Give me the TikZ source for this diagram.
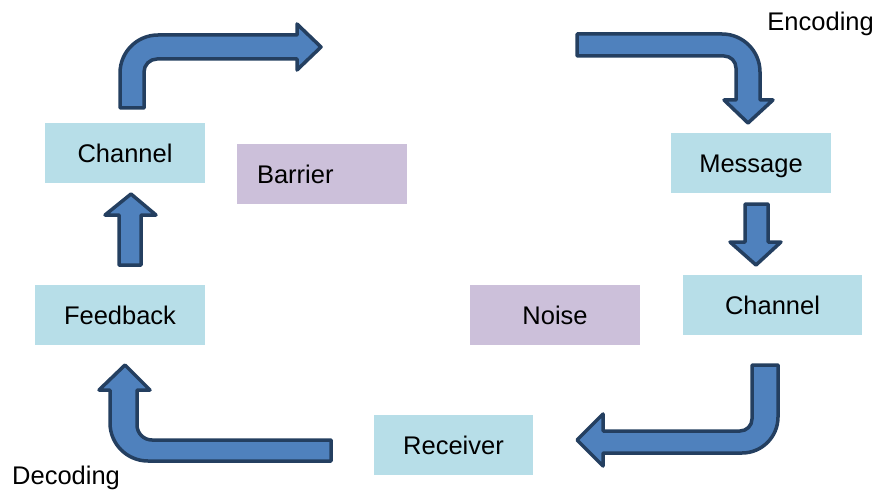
\documentclass[tikz,border=0pt]{standalone}
\usepackage{fontspec}
\setmainfont{Liberation Sans}
\definecolor{boxblue}{HTML}{B7DEE8}
\definecolor{boxlilac}{HTML}{CCC0DA}
\definecolor{arrfill}{HTML}{4F81BD}
\definecolor{arrline}{HTML}{243F60}
\begin{document}
\begin{tikzpicture}[x=1pt,y=-1pt,
  box/.style={draw=none,inner sep=0pt,text height=18pt,text depth=0pt,font=\fontsize{25.5}{30}\selectfont},
  bluebox/.style={box,fill=boxblue},
  lilacbox/.style={box,fill=boxlilac},
  lbl/.style={inner sep=0pt,text height=18pt,text depth=5pt,font=\fontsize{25.5}{30}\selectfont},
  fatarrow/.style={fill=arrfill,draw=arrline,line width=3.5pt,line join=round}]
\useasboundingbox (0,0) rectangle (877,492);
% boxes
\node[bluebox,minimum width=160pt,minimum height=60pt] (chl) at (125,153) {Channel};
\node[lilacbox,minimum width=170pt,minimum height=60pt,inner xsep=20pt,text width=130pt,align=left] (bar) at (322,174) {Barrier};
\node[bluebox,minimum width=170pt,minimum height=60pt] (fb) at (120,315) {Feedback};
\node[bluebox,minimum width=160pt,minimum height=60pt] (msg) at (751,163) {Message};
\node[bluebox,minimum width=179pt,minimum height=60pt] (chr) at (772.5,305) {Channel};
\node[lilacbox,minimum width=170pt,minimum height=60pt] (noise) at (555,315) {Noise};
\node[bluebox,minimum width=159pt,minimum height=60pt] (rec) at (453.5,445) {Receiver};
% labels
\node[lbl,anchor=east] (enc) at (874,24) {Encoding};
\node[lbl,anchor=west] (dec) at (12,478) {Decoding};
% arrows
\draw[fatarrow] (120,108) -- (120,73) arc[start angle=180,end angle=270,radius=38]
  -- (297,35) -- (297,24) -- (321,47) -- (297,70) -- (297,59) -- (157,59)
  arc[start angle=270,end angle=180,radius=13] -- (144,108) -- cycle;
\draw[fatarrow] (577,34) -- (722,34) arc[start angle=270,end angle=360,radius=38]
  -- (760,100) -- (773,100) -- (748,123) -- (724,100) -- (736,100) -- (736,68)
  arc[start angle=0,end angle=-90,radius=12] -- (577,56) -- cycle;
\draw[fatarrow] (752,365) -- (778,365) -- (778,417) arc[start angle=0,end angle=90,radius=36]
  -- (603,453) -- (603,466) -- (577,440) -- (603,414) -- (603,431) -- (740,431)
  arc[start angle=90,end angle=0,radius=12] -- cycle;
\draw[fatarrow] (331,440) -- (152,440) arc[start angle=90,end angle=180,radius=15]
  -- (137,390) -- (150,390) -- (125,365) -- (99,390) -- (110,390) -- (110,423)
  arc[start angle=180,end angle=90,radius=38] -- (331,461) -- cycle;
\draw[fatarrow] (119,265) -- (119,215) -- (105,215) -- (131,194) -- (156,215) -- (141,215) -- (141,265) -- cycle;
\draw[fatarrow] (745,204) -- (768,204) -- (768,242) -- (781,242) -- (756,265) -- (730,242) -- (745,242) -- cycle;
\end{tikzpicture}
\end{document}
